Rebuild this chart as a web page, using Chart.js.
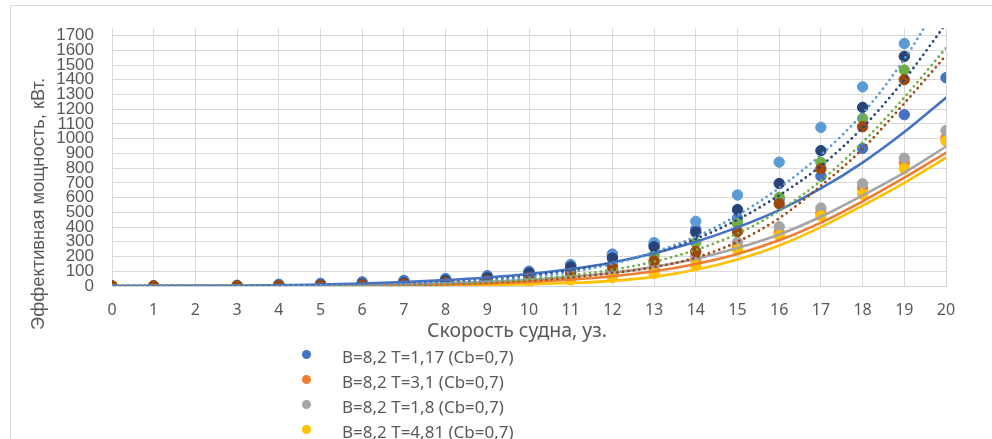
<!DOCTYPE html>
<html>
<head>
<meta charset="utf-8">
<script src="https://cdn.jsdelivr.net/npm/chart.js@4.4.1/dist/chart.umd.min.js"></script>
<style>
  body { margin: 0; background: #fff; }
  #wrap { position: relative; width: 992px; height: 439px; overflow: hidden; }
  #frame { position: absolute; left: 10px; top: 5px; right: -2px; bottom: -2px; border-top: 1px solid #d9d9d9; border-left: 1px solid #d9d9d9; }
  #chart { position: absolute; left: 0; top: 0; }
  #legend { position: absolute; left: 302px; top: 344px; font: 17px "Noto Sans"; color: #595959; }
  .item { height: 25px; line-height: 25px; display: flex; align-items: center; white-space: nowrap; }
  .dot { width: 9px; height: 9px; border-radius: 50%; margin-right: 31px; position: relative; top: -2px; }
</style>
</head>
<body>
<div id="wrap">
  <div id="frame"></div>
  <canvas id="chart" width="992" height="350"></canvas>
  <div id="legend"></div>
</div>
<script>
// speeds (knots) where points were computed
var speeds = [0, 1, 3, 4, 5, 6, 7, 8, 9, 10, 11, 12, 13, 14, 15, 16, 17, 18, 19, 20];
var trendSpeeds = [0, 1, 2, 3, 4, 5, 6, 7, 8, 9, 10, 11, 12, 13, 14, 15, 16, 17, 18, 19, 20];
var yTicks = [0, 100, 200, 300, 400, 500, 600, 700, 800, 900, 1000, 1100, 1200, 1300, 1400, 1500, 1600, 1700];

var seriesLabels = [
    "B=8,2 T=1,17 (Cb=0,7)",
    "B=8,2 T=3,1 (Cb=0,7)",
    "B=8,2 T=1,8 (Cb=0,7)",
    "B=8,2 T=4,81 (Cb=0,7)",
    "Ряд5", "Ряд6", "Ряд7", "Ряд8"
];
var seriesColors = ["#4472C4", "#ED7D31", "#A5A5A5", "#FFC000", "#5B9BD5", "#70AD47", "#264478", "#9E480E"];

// effective power, kW
var power1 = [0, 0, 5, 12, 18, 28, 38, 50, 70, 100, 145, 216, 281, 385, 461, 590, 746, 934, 1163, 1414];
var power2 = [0, 0, 1, 2, 3, 6, 10, 16, 25, 38, 55, 80, 112, 178, 266, 363, 497, 666, 839, 1006];
var power3 = [0, 0, 1, 2, 4, 8, 13, 21, 32, 47, 68, 100, 145, 205, 298, 402, 530, 694, 867, 1055];
var power4 = [0, 0, 0, 1, 3, 5, 8, 13, 20, 30, 42, 58, 85, 140, 245, 342, 476, 623, 796, 984];
var power5 = [0, 0, 1, 4, 8, 14, 24, 38, 60, 92, 140, 205, 295, 439, 618, 841, 1077, 1352, 1646];
var power6 = [0, 0, 1, 2, 5, 9, 16, 27, 43, 66, 100, 147, 210, 294, 424, 601, 839, 1138, 1466];
var power7 = [0, 0, 1, 3, 7, 13, 22, 37, 57, 88, 130, 190, 266, 365, 519, 696, 919, 1213, 1559];
var power8 = [0, 0, 0, 2, 4, 8, 14, 24, 38, 58, 88, 130, 169, 234, 370, 558, 796, 1081, 1401];

// trend lines
var trend1 = [0, 0, 1, 2, 5, 10, 17, 27, 40, 58, 82, 115, 160, 222, 300, 398, 515, 662, 838, 1045, 1278];
var trend2 = [0, 0, 0, 0, 1, 2, 3, 6, 11, 18, 28, 43, 66, 100, 150, 218, 310, 430, 575, 735, 904];
var trend3 = [0, 0, 0, 0, 1, 3, 6, 11, 18, 28, 42, 62, 90, 130, 185, 258, 350, 470, 615, 770, 947];
var trend4 = [0, 0, 0, 0, 0, 1, 1, 2, 4, 7, 12, 20, 35, 62, 110, 180, 275, 400, 545, 700, 871];
var trend5 = [0, 0, 0, 0, 1, 3, 6, 11, 21, 36, 60, 95, 150, 230, 335, 480, 665, 890, 1170, 1540, 2000];
var trend6 = [0, 0, 0, 0, 1, 2, 4, 8, 15, 27, 45, 72, 110, 165, 245, 355, 510, 715, 975, 1280, 1615];
var trend7 = [0, 0, 0, 0, 1, 3, 7, 14, 25, 42, 68, 105, 155, 225, 320, 450, 615, 815, 1075, 1400, 1780];
var trend8 = [0, 0, 0, 0, 0, 1, 3, 6, 12, 22, 37, 58, 88, 128, 192, 300, 460, 680, 930, 1240, 1565];

var xTitle = "Скорость судна, уз.";
var yTitle = "Эффективная мощность, кВт.";

var powers = [power1, power2, power3, power4, power5, power6, power7, power8];
var trends = [trend1, trend2, trend3, trend4, trend5, trend6, trend7, trend8];

function toPoints(xs, ys) {
    return ys.map(function (y, i) { return { x: xs[i], y: y }; });
}

var datasets = [];
// trend lines on top, dotted ones for series 5-8
trends.forEach(function (t, i) {
    datasets.push({
        type: "line",
        label: "trend " + (i + 1),
        data: toPoints(trendSpeeds, t),
        borderColor: seriesColors[i],
        borderWidth: i < 4 ? 2.6 : 2.8,
        borderDash: i < 4 ? [] : [0, 5.5],
        borderCapStyle: "round",
        cubicInterpolationMode: "monotone",
        pointRadius: 0,
        fill: false,
        order: i < 4 ? 1 : 0,
    });
});
powers.forEach(function (p, i) {
    datasets.push({
        type: "scatter",
        label: seriesLabels[i],
        data: toPoints(speeds, p),
        backgroundColor: seriesColors[i],
        borderColor: seriesColors[i],
        pointRadius: 5.2,
        pointBorderWidth: 1,
        order: 10 - i,
    });
});

// draws text scaled to a given length
function fitText(ctx, text, family, size, length) {
    ctx.font = size + 'px "' + family + '"';
    var w = ctx.measureText(text).width;
    ctx.font = (size * length / w).toFixed(2) + 'px "' + family + '"';
    ctx.fillText(text, 0, 0);
}

var axisTitles = {
    id: "axisTitles",
    afterDraw: function (chart) {
        var ctx = chart.ctx;
        var area = chart.chartArea;
        ctx.save();
        ctx.fillStyle = "#595959";
        ctx.textAlign = "center";
        ctx.textBaseline = "alphabetic";
        ctx.save();
        ctx.translate((area.left + area.right) / 2 - 12, area.bottom + 51);
        fitText(ctx, xTitle, "Noto Sans", 18, 180);
        ctx.restore();
        ctx.translate(44, area.bottom - 82);
        ctx.rotate(-Math.PI / 2);
        fitText(ctx, yTitle, "Liberation Sans", 17, 252);
        ctx.restore();
    }
};

var ctx = document.getElementById("chart").getContext("2d");
var chart = new Chart(ctx, {
    type: "scatter",
    data: { datasets: datasets },
    plugins: [axisTitles],
    options: {
        responsive: false,
        animation: false,
        events: [],
        layout: { padding: { left: 0, right: 46, top: 17, bottom: 0 } },
        plugins: {
            legend: { display: false },
            tooltip: { enabled: false },
        },
        scales: {
            x: {
                type: "linear",
                min: 0,
                max: 20,
                afterFit: function (scale) { scale.height = 64; },
                ticks: {
                    stepSize: 1,
                    autoSkip: false,
                    maxRotation: 0,
                    padding: 15,
                    color: "#595959",
                    font: { family: "Noto Sans", size: 16 },
                },
                grid: { color: "#d9d9d9", drawTicks: false },
                border: { color: "#d0d0d0" },
            },
            y: {
                min: 0,
                max: 1750,
                afterFit: function (scale) { scale.width = 112; },
                afterBuildTicks: function (scale) {
                    scale.ticks = yTicks.map(function (v) { return { value: v }; });
                },
                ticks: {
                    autoSkip: false,
                    padding: 18,
                    color: "#595959",
                    font: { family: "Liberation Sans", size: 17 },
                    callback: function (v) { return String(v); },
                },
                grid: { color: "#d9d9d9", drawTicks: false },
                border: { color: "#d9d9d9" },
            },
        },
    },
});

// legend: only the first four entries fit in the picture
var legend = document.getElementById("legend");
chart.data.datasets.filter(function (d) { return d.type === "scatter"; }).slice(0, 4).forEach(function (d) {
    var item = document.createElement("div");
    item.className = "item";
    var dot = document.createElement("span");
    dot.className = "dot";
    dot.style.background = d.backgroundColor;
    var text = document.createElement("span");
    text.textContent = d.label;
    item.appendChild(dot);
    item.appendChild(text);
    legend.appendChild(item);
});
</script>
</body>
</html>
